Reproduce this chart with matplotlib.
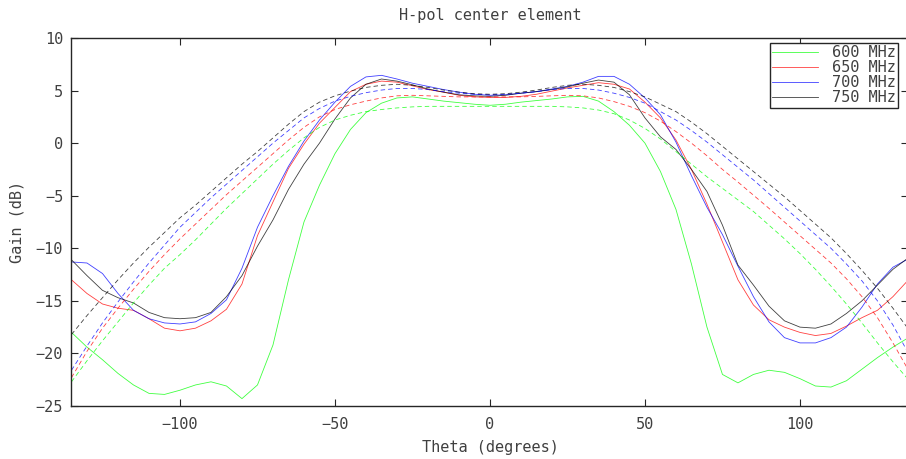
import matplotlib
matplotlib.use("Agg")
import matplotlib.pyplot as plt

# angle grid (degrees)
theta = [-135, -130, -125, -120, -115, -110, -105, -100, -95, -90, -85, -80, -75, -70,
         -65, -60, -55, -50, -45, -40, -35, -30, -25, -20, -15, -10, -5, 0,
         5, 10, 15, 20, 25, 30, 35, 40, 45, 50, 55, 60, 65, 70, 75, 80,
         85, 90, 95, 100, 105, 110, 115, 120, 125, 130, 135]

# measured gain (dB), solid lines
meas_600 = [-18.0, -19.4, -20.6, -21.9, -23.0, -23.8, -23.9, -23.5, -23.0, -22.7, -23.1, -24.3, -23.0, -19.2,
            -13.0, -7.5, -4.0, -1.0, 1.3, 2.9, 3.8, 4.3, 4.4, 4.2, 4.0, 3.85, 3.7, 3.6,
            3.7, 3.9, 4.05, 4.2, 4.4, 4.45, 4.0, 3.0, 1.7, 0.0, -2.7, -6.3, -11.5, -17.5, -22.0, -22.8,
            -22.0, -21.6, -21.8, -22.4, -23.1, -23.2, -22.6, -21.5, -20.4, -19.4, -18.5]
meas_650 = [-13.0, -14.3, -15.3, -15.7, -15.9, -16.7, -17.6, -17.85, -17.6, -16.9, -15.8, -13.4, -8.8, -5.6,
            -2.4, -0.1, 1.9, 3.4, 4.9, 5.6, 5.9, 5.8, 5.45, 5.1, 4.85, 4.55, 4.4, 4.35,
            4.35, 4.45, 4.65, 4.95, 5.25, 5.5, 5.75, 5.6, 5.15, 3.9, 2.4, 0.3, -2.5, -5.8, -9.4, -13.0,
            -15.4, -16.8, -17.5, -18.0, -18.3, -18.1, -17.4, -16.6, -15.9, -14.6, -13.0]
meas_700 = [-11.3, -11.4, -12.4, -14.3, -15.9, -16.7, -17.1, -17.2, -17.0, -16.2, -14.9, -11.9, -8.0, -5.0,
            -2.2, 0.2, 2.2, 3.9, 5.4, 6.3, 6.45, 6.1, 5.7, 5.4, 5.1, 4.85, 4.65, 4.55,
            4.6, 4.75, 4.9, 5.15, 5.4, 5.8, 6.35, 6.35, 5.6, 4.3, 2.7, 0.1, -3.1, -6.1, -8.7, -11.7,
            -14.6, -17.0, -18.5, -19.0, -19.0, -18.5, -17.5, -15.6, -13.4, -11.8, -11.0]
meas_750 = [-11.1, -12.6, -14.0, -14.7, -15.2, -16.1, -16.6, -16.7, -16.6, -16.1, -14.6, -12.6, -9.8, -7.3,
            -4.4, -2.0, 0.0, 2.3, 4.3, 5.6, 6.1, 5.9, 5.55, 5.15, 4.85, 4.6, 4.5, 4.45,
            4.55, 4.75, 4.9, 5.1, 5.35, 5.7, 6.0, 5.8, 4.6, 2.4, 0.6, -0.6, -2.5, -4.6, -7.8, -11.6,
            -13.5, -15.5, -16.9, -17.5, -17.6, -17.2, -16.2, -15.0, -13.5, -12.0, -10.9]

# simulated gain (dB), dashed lines
sim_600 = [-22.7, -20.7, -18.8, -17.0, -15.2, -13.5, -11.9, -10.6, -9.2, -7.7, -6.2, -4.8, -3.4, -2.0,
           -0.7, 0.5, 1.5, 2.2, 2.65, 3.0, 3.2, 3.35, 3.45, 3.5, 3.5, 3.5, 3.5, 3.5,
           3.5, 3.5, 3.5, 3.5, 3.45, 3.35, 3.15, 2.8, 2.2, 1.4, 0.4, -0.8, -2.0, -3.2, -4.3, -5.4,
           -6.5, -7.8, -9.1, -10.5, -12.0, -13.6, -15.3, -17.1, -19.0, -20.8, -22.5]
sim_650 = [-22.3, -19.8, -17.6, -15.7, -13.9, -12.2, -10.6, -9.1, -7.7, -6.3, -4.9, -3.6, -2.3, -1.0,
           0.3, 1.5, 2.5, 3.2, 3.65, 4.0, 4.3, 4.5, 4.55, 4.5, 4.45, 4.4, 4.4, 4.4,
           4.4, 4.4, 4.45, 4.5, 4.55, 4.5, 4.3, 3.95, 3.5, 2.9, 2.1, 1.1, 0.0, -1.2, -2.5, -3.7,
           -4.95, -6.2, -7.5, -8.8, -10.1, -11.4, -12.9, -14.6, -16.6, -19.0, -21.6]
sim_700 = [-21.6, -19.3, -17.1, -15.1, -13.2, -11.4, -9.7, -8.0, -6.6, -5.2, -3.9, -2.6, -1.3, 0.0,
           1.2, 2.4, 3.3, 4.0, 4.45, 4.8, 5.05, 5.2, 5.2, 5.1, 4.9, 4.75, 4.65, 4.6,
           4.65, 4.75, 4.9, 5.1, 5.2, 5.2, 5.05, 4.75, 4.35, 3.8, 3.0, 2.2, 1.2, 0.1, -1.1, -2.3,
           -3.5, -4.8, -6.1, -7.4, -8.7, -10.0, -11.5, -13.1, -15.0, -17.3, -20.0]
sim_750 = [-18.2, -16.4, -14.7, -13.0, -11.4, -9.9, -8.5, -7.1, -5.9, -4.6, -3.3, -2.0, -0.8, 0.5,
           1.8, 3.0, 3.9, 4.5, 4.95, 5.3, 5.5, 5.6, 5.5, 5.3, 5.05, 4.85, 4.7, 4.65,
           4.7, 4.85, 5.05, 5.3, 5.5, 5.6, 5.5, 5.3, 4.9, 4.4, 3.7, 3.0, 2.0, 0.9, -0.3, -1.5,
           -2.7, -3.9, -5.1, -6.4, -7.7, -9.0, -10.5, -12.1, -13.8, -15.7, -17.7]

labels = ["600 MHz", "650 MHz", "700 MHz", "750 MHz"]
colors = ["#00ff00", "#ff0000", "#0000ff", "#000000"]

plt.rcParams["font.family"] = "DejaVu Sans Mono"
plt.rcParams["font.size"] = 11
plt.rcParams["lines.scale_dashes"] = False
text_col = "#404040"

fig = plt.figure(figsize=(9.06, 4.59), dpi=100)
ax = fig.add_axes([0.0789, 0.1155, 0.9238, 0.8017])

measured = [meas_600, meas_650, meas_700, meas_750]
simulated = [sim_600, sim_650, sim_700, sim_750]
for meas, lab, col in zip(measured, labels, colors):
    ax.plot(theta, meas, color=col, lw=0.6, alpha=0.75, label=lab)
for sim, col in zip(simulated, colors):
    ax.plot(theta, sim, color=col, lw=0.6, alpha=0.75, linestyle=(0, (3.2, 2.2)))

ax.set_xlim(-135, 135)
ax.set_ylim(-25, 10)
ax.set_xticks([-100, -50, 0, 50, 100])
ax.set_yticks([-25, -20, -15, -10, -5, 0, 5, 10])
ax.tick_params(direction="in", length=5, width=0.8, top=True, right=True,
               colors="#262626", labelcolor=text_col, pad=6)
ax.tick_params(axis="x", pad=8)
for sp in ax.spines.values():
    sp.set_color("#262626")
    sp.set_linewidth(1.0)

ax.set_title("H-pol center element", color=text_col, fontsize=11, pad=13)
ax.set_xlabel("Theta (degrees)", color=text_col, labelpad=6)
ax.set_ylabel("Gain (dB)", color=text_col, labelpad=8)

leg = ax.legend(loc="upper right", bbox_to_anchor=(0.9875, 0.9864), fancybox=False,
                framealpha=1, edgecolor="#262626", handlelength=3.0, labelspacing=0.0,
                borderpad=0.15, handletextpad=0.9, borderaxespad=0)
leg.get_frame().set_linewidth(1.0)
for t in leg.get_texts():
    t.set_color(text_col)

fig.savefig("out.png", dpi=100)
